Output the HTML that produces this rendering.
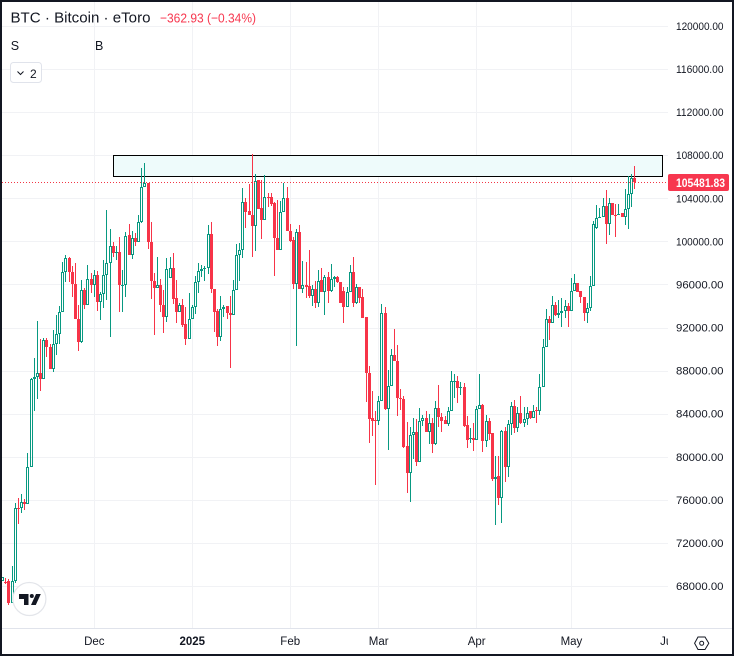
<!DOCTYPE html>
<html lang="en">
<head>
<meta charset="utf-8">
<title>BTC Bitcoin eToro chart</title>
<style>
  html, body { margin: 0; padding: 0; background: #fff; }
  svg { display: block; font-family: "Liberation Sans", sans-serif; }
</style>
</head>
<body>
<svg id="chart" width="734" height="656" viewBox="0 0 734 656" xmlns="http://www.w3.org/2000/svg">
  <rect x="0" y="0" width="734" height="656" fill="#ffffff"/>
  <g id="grid"></g>
  <rect x="113.5" y="155.5" width="549" height="21" fill="#eefbfb" stroke="#000000" stroke-width="1" shape-rendering="crispEdges"/>
  <g id="candles"></g>
  <line id="price-line" x1="2" x2="668" stroke="#f23645" stroke-width="1" stroke-dasharray="1 2" shape-rendering="crispEdges"/>
  <rect x="2" y="628" width="730" height="1" fill="#e0e3eb"/>
  <g id="y-axis"></g>
  <g id="x-axis"></g>
  <rect x="668" y="174" width="61" height="17" rx="2" fill="#f7374f"/>
  <text id="last-price-text" x="676" y="187" font-size="11.5" font-weight="bold" fill="#ffffff" textLength="49" lengthAdjust="spacingAndGlyphs"></text>

  <text x="10.5" y="22.7" font-size="15" fill="#131722" textLength="140" lengthAdjust="spacingAndGlyphs">BTC · Bitcoin · eToro</text>
  <text x="160" y="22.5" font-size="13" fill="#f7374f" textLength="96" lengthAdjust="spacingAndGlyphs">−362.93 (−0.34%)</text>
  <text x="10.7" y="50" font-size="12.5" fill="#131722">S</text>
  <text x="95" y="50" font-size="12.5" fill="#131722">B</text>
  <g>
    <rect x="10.5" y="62.5" width="31" height="20" rx="3" fill="#ffffff" stroke="#e0e3eb"/>
    <path d="M17.5 71.5 L20.5 74.5 L23.5 71.5" fill="none" stroke="#131722" stroke-width="1"/>
    <text x="30" y="78" font-size="12" fill="#131722">2</text>
  </g>

  <g>
    <circle cx="29.4" cy="599" r="16.5" fill="#ffffff" stroke="#e3e5ea" stroke-width="1.2"/>
    <path d="M19 594 H28.5 V605 H24 V599 H19 Z" fill="#131722"/>
    <circle cx="31.8" cy="596" r="2" fill="#131722"/>
    <path d="M36 594 H40.8 L35.8 605 H31 Z" fill="#131722"/>
  </g>

  <g>
    <path d="M698 637 H705 L708.8 643.3 L705 649.5 H698 L694.6 643.3 Z" fill="none" stroke="#131722" stroke-width="1"/>
    <circle cx="701.7" cy="643.3" r="2" fill="none" stroke="#131722" stroke-width="1"/>
  </g>

  <rect x="0" y="0" width="2" height="656" fill="#131722"/>
  <rect x="0" y="0" width="734" height="2" fill="#131722"/>
  <rect x="732" y="0" width="2" height="656" fill="#131722"/>
  <rect x="0" y="654" width="734" height="2" fill="#131722"/>
</svg>

<script>
// Prices in thousands of USD. Index 0 is 29 days before 1 December.
const firstDayOffset = -29;
const opens = [
68.5,68.4,68.43,66.39,68.43,75.2,75.2,75.76,75.66,79.08,
87.19,87.38,87.75,87.19,90.84,90.16,88.18,90.47,91.4,93.48,
97.13,98.43,97.13,96.0,92.76,90.7,95.49,94.13,96.48,95.92,
96.85,94.4,95.08,96.85,97.96,99.54,98.95,99.05,95.92,95.92,
100.59,98.74,100.28,99.97,101.77,105.02,105.4,99.91,96.35,95.64,
95.92,94.13,92.95,96.63,97.5,94.71,93.47,94.06,92.33,90.97,
92.76,93.88,96.2,97.25,97.41,97.5,100.69,95.55,93.51,91.15,
93.69,94.0,93.38,93.2,95.46,98.71,99.17,103.63,102.79,102.48,
101.46,105.7,103.07,102.02,104.09,104.09,103.53,100.3,99.23,102.7,
104.0,101.0,100.13,96.01,100.84,95.55,95.92,95.86,94.96,95.55,
94.25,96.42,95.33,96.69,95.42,96.48,96.66,96.2,95.36,93.94,
95.27,97.13,94.31,95.73,94.8,92.95,87.75,83.63,83.38,83.29,
85.15,93.32,84.41,86.57,89.42,88.89,85.43,85.37,81.0,78.46,
81.99,82.3,79.55,83.29,83.6,82.33,83.11,81.22,84.5,83.66,
83.42,83.08,84.22,87.01,87.04,86.42,86.48,82.95,81.68,81.71,
81.56,84.41,84.84,81.5,83.29,82.21,77.97,78.22,76.2,82.36,
79.08,83.01,84.72,82.64,84.04,83.11,83.48,84.28,83.6,84.34,
84.28,86.51,90.22,92.76,92.45,94.06,93.17,93.38,93.5,94.0,
93.57,95.42,96.1,95.42,94.87,93.32,93.78,95.86,101.2,102.14,
102.23,103.29,101.6,103.53,102.45,102.45,102.6,102.3,102.97,104.37,105.85
];
const highs = [
68.8,68.7,68.68,69.86,75.74,76.2,76.54,76.05,80.32,87.3,
89.14,92.6,90.9,90.99,91.0,90.5,91.77,93.17,94.0,98.12,
98.7,98.58,97.7,97.96,94.1,96.41,95.7,97.78,97.03,97.34,
97.25,95.33,98.27,102.9,101.12,99.94,99.57,100.38,97.34,100.87,
101.6,101.0,100.8,102.45,106.78,107.25,105.45,101.77,97.04,98.52,
96.48,95.49,98.46,98.52,98.89,96.41,94.25,94.62,93.94,95.17,
94.09,96.79,97.96,97.81,97.72,101.52,101.8,95.55,93.69,94.93,
94.09,94.0,94.93,96.41,99.73,99.88,104.99,104.0,105.33,108.11,
106.26,105.7,105.7,106.16,104.52,104.52,103.69,103.84,103.72,105.45,
105.02,101.62,100.38,101.18,101.52,98.18,98.12,99.2,95.95,96.32,
97.34,97.53,96.88,97.19,97.9,96.79,96.79,96.2,95.8,95.73,
97.81,98.55,96.04,95.73,95.55,93.01,88.43,86.11,84.22,85.64,
94.16,93.88,88.06,90.01,91.83,90.38,86.26,85.64,83.2,82.73,
83.57,83.48,84.53,83.91,84.22,83.97,83.57,85.15,86.67,84.1,
83.79,84.59,87.97,87.69,87.5,86.97,86.82,83.82,82.7,83.17,
84.72,87.69,84.9,83.88,83.57,82.21,80.07,80.07,82.49,82.8,
83.42,85.12,85.27,84.65,85.64,84.65,84.65,84.28,84.81,84.65,
87.69,90.9,93.69,93.07,94.93,94.4,94.56,94.71,94.56,94.31,
96.57,96.97,96.17,95.42,94.87,94.25,96.79,101.92,103.38,103.07,
104.06,104.77,104.0,103.53,103.47,103.47,102.6,104.83,106.07,106.26,107.0
];
const lows = [
68.5,68.2,66.2,66.39,68.25,73.76,74.8,75.06,75.66,79.08,
84.28,85.34,86.14,87.19,89.23,88.18,87.9,89.45,90.5,93.48,
96.26,96.26,94.87,92.76,89.82,90.6,93.75,94.13,95.24,94.87,
93.57,92.7,93.78,94.56,91.15,98.58,98.27,93.4,93.4,94.8,
98.74,98.33,99.57,99.97,101.68,105.02,99.26,94.68,91.28,95.64,
93.47,91.52,92.55,96.63,94.19,92.45,93.47,92.08,90.38,90.97,
92.76,93.26,95.18,96.66,96.35,96.97,95.24,91.62,90.29,90.78,
93.01,92.82,88.24,93.2,95.46,96.35,98.43,101.24,102.42,98.58,
99.14,103.01,100.25,102.02,103.16,103.29,96.79,99.23,99.2,102.7,
101.0,99.94,95.55,90.32,95.55,95.24,94.71,94.71,94.0,93.82,
93.88,95.33,93.2,94.31,95.33,95.79,96.1,94.31,92.45,93.88,
95.27,93.88,94.19,94.31,92.86,85.12,81.31,81.96,77.41,82.95,
85.15,84.34,80.63,86.57,88.89,83.79,84.34,80.78,76.61,75.83,
79.76,79.14,79.55,82.86,82.33,81.19,80.38,81.13,82.73,82.3,
83.08,82.89,84.22,85.43,85.02,85.74,82.8,80.82,81.31,80.54,
81.56,84.41,80.44,80.94,81.56,77.78,73.7,75.52,73.88,77.66,
78.09,82.02,82.18,82.33,83.05,82.8,82.95,83.48,83.6,83.17,
83.88,86.51,90.22,90.84,92.45,93.07,92.86,92.02,92.86,92.08,
93.5,95.42,95.33,94.31,92.64,92.45,93.57,95.86,101.12,102.14,
102.23,99.76,100.6,102.45,100.44,102.45,102.3,101.52,101.12,103.22,104.86
];
const closes = [
68.8,68.25,66.39,68.43,75.2,75.15,75.76,75.66,79.08,87.19,
87.38,87.75,87.19,90.84,90.16,88.18,90.47,91.4,93.48,97.13,
98.43,97.13,96.0,92.76,90.7,95.49,94.13,96.48,95.92,96.85,
94.4,95.08,96.85,97.96,99.54,98.95,99.05,95.92,95.95,100.53,
98.74,100.28,99.97,101.77,105.02,105.4,99.91,96.35,95.64,95.92,
94.13,92.95,97.4,97.5,94.65,93.47,94.06,92.24,90.97,92.76,
93.88,96.2,97.25,97.41,97.5,100.69,95.55,93.47,91.15,93.69,
93.94,93.38,93.2,95.46,98.71,99.17,103.63,102.76,102.48,101.46,
105.64,103.01,102.02,104.09,104.0,103.47,100.3,99.23,102.7,104.0,
101.0,100.07,96.01,100.84,95.55,95.92,95.73,94.96,95.55,94.25,
96.35,95.33,96.66,95.42,96.48,96.66,96.2,94.31,93.94,95.27,
97.13,94.31,95.73,94.77,92.92,87.81,83.54,83.35,83.35,85.15,
93.32,84.41,86.57,89.42,88.89,85.43,85.37,80.94,78.46,81.99,
82.3,79.55,83.29,83.6,82.33,83.11,81.22,84.5,83.66,83.35,
83.08,84.22,87.04,87.04,86.42,86.45,82.89,81.56,81.71,81.56,
84.41,84.78,81.5,83.29,82.15,77.97,78.15,76.2,82.36,79.08,
83.04,84.72,82.64,84.04,83.11,83.48,84.04,83.6,84.28,84.28,
86.45,90.22,92.76,92.45,94.06,93.17,93.38,93.57,94.0,93.57,
95.42,96.1,95.33,94.81,93.32,93.78,95.86,101.6,102.14,102.23,
103.29,101.6,103.53,102.45,102.39,102.54,102.3,102.97,104.37,105.86,105.48
];
const priceTicks = [120,116,112,108,104,100,96,92,88,84,80,76,72,68];
const monthLabels = ["Dec","2025","Feb","Mar","Apr","May","Jun"];
const monthOffsets = [0,31,62,90,121,151,182];
const lastPrice = 105.48183;

const SVG_NS = "http://www.w3.org/2000/svg";
const GREEN = "#089981";
const RED = "#f73448";

function xScale(dayOffset) { return 94.3 + dayOffset * 3.16; }
function yScale(price) { return 26 + (120 - price) * 560 / 52; }

function make(tag, attrs, parent) {
  const el = document.createElementNS(SVG_NS, tag);
  for (const k in attrs) el.setAttribute(k, attrs[k]);
  parent.appendChild(el);
  return el;
}

const gridG = document.getElementById("grid");
const yAxisG = document.getElementById("y-axis");
const xAxisG = document.getElementById("x-axis");
const candlesG = document.getElementById("candles");

priceTicks.forEach(function (t) {
  const y = Math.round(yScale(t));
  const line = make("rect", { x: 2, y: y, width: 666, height: 1, fill: "#f1f2f5" }, gridG);
  
  
  const label = make("text", { x: 676, y: yScale(t) + 4, "font-size": 11, fill: "#131722", textLength: 47.5, lengthAdjust: "spacingAndGlyphs" }, yAxisG);
  label.textContent = (t * 1000).toFixed(2);
  
  
});

monthLabels.forEach(function (m, i) {
  const px = xScale(monthOffsets[i]);
  if (px < 668) {
    const vline = make("rect", { x: Math.floor(px), y: 2, width: 1, height: 626, fill: "#f1f2f5" }, gridG);
    
    
  }
});

const clip = make("clipPath", { id: "time-clip" }, xAxisG);
make("rect", { x: 2, y: 629, width: 666, height: 25 }, clip);
const xLabels = make("g", { "clip-path": "url(#time-clip)" }, xAxisG);


monthLabels.forEach(function (m, i) {
  const label = make("text", { x: xScale(monthOffsets[i]), y: 645, "font-size": 11.5, fill: "#131722", "text-anchor": "middle" }, xLabels);
  if (m === "2025") label.setAttribute("font-weight", "bold");
  label.textContent = m;
  
  
});

closes.forEach(function (close, i) {
  const open = opens[i];
  const up = close >= open;
  const color = up ? GREEN : RED;
  const cx = Math.floor(xScale(firstDayOffset + i));
  const top = Math.round(yScale(Math.max(open, close)));
  const bottom = Math.max(top + 1, Math.round(yScale(Math.min(open, close))));
  const hi = Math.round(yScale(highs[i]));
  const lo = Math.round(yScale(lows[i]));
  const g = make("g", { "shape-rendering": "crispEdges" }, candlesG);
  
  
  if (hi < top) make("rect", { x: cx, y: hi, width: 1, height: top - hi, fill: color }, g);
  if (lo > bottom) make("rect", { x: cx, y: bottom, width: 1, height: lo - bottom, fill: color }, g);
  if (up) {
    make("rect", { x: cx - 0.5, y: top + 0.5, width: 2, height: Math.max(bottom - top - 1, 0.01), fill: "none", stroke: color, "stroke-width": 1 }, g);
  } else {
    make("rect", { x: cx - 1, y: top, width: 3, height: bottom - top, fill: color }, g);
  }
});

const priceLine = document.getElementById("price-line");
priceLine.setAttribute("y1", Math.round(yScale(lastPrice)) + 0.5);
priceLine.setAttribute("y2", Math.round(yScale(lastPrice)) + 0.5);
document.getElementById("last-price-text").textContent = (lastPrice * 1000).toFixed(2);
</script>
</body>
</html>
